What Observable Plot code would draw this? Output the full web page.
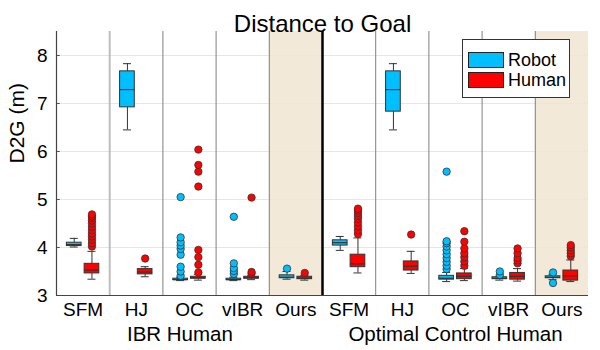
<!DOCTYPE html>
<html>
<head>
<meta charset="utf-8">
<script src="https://cdn.jsdelivr.net/npm/d3@7"></script>
<script src="https://cdn.jsdelivr.net/npm/@observablehq/plot@0.6"></script>
<style>
  body { margin: 0; background: #fff; }
  #wrap { position: relative; width: 600px; height: 350px; font-family: "Liberation Sans", Arial, sans-serif; }
  #legend { position: absolute; left: 462px; top: 39px; width: 108px; height: 59px; box-sizing: border-box;
            border: 1px solid #333; background: #fff; }
  .sw { position: absolute; left: 5px; width: 36px; height: 16px; box-sizing: border-box; border: 1px solid #222; }
  .lt { position: absolute; left: 45px; font-size: 18px; line-height: 18px; color: #000; }
</style>
</head>
<body>
<div id="wrap"></div>
<script>
// ---- labels / categories ----
const title = "Distance to Goal";
const yLabel = "D2G (m)";
const groups = ["IBR Human", "Optimal Control Human"];
const methods = ["SFM", "HJ", "OC", "vIBR", "Ours"];
const seriesNames = ["Robot", "Human"];
const seriesColors = ["#00bfff", "#ff0000"];
const highlightMethod = "Ours";
const yDomain = [3, 8.5];
const yTicks = [3, 4, 5, 6, 7, 8];

// ---- IBR Human : Robot ----
const ibrRobotLo  = [4.01, 6.45, 3.31, 3.31, 3.34];
const ibrRobotQ1  = [4.03, 6.92, 3.32, 3.32, 3.36];
const ibrRobotMed = [4.06, 7.29, 3.33, 3.33, 3.38];
const ibrRobotQ3  = [4.10, 7.67, 3.35, 3.35, 3.42];
const ibrRobotHi  = [4.19, 7.83, 3.38, 3.38, 3.50];
const ibrRobotOut = [[], [], [3.41, 3.50, 3.60, 3.85, 3.97, 4.04, 4.11, 4.21, 5.05], [3.45, 3.51, 3.57, 3.67, 4.64], [3.56]];

// ---- IBR Human : Human ----
const ibrHumanLo  = [3.34, 3.39, 3.32, 3.33, 3.32];
const ibrHumanQ1  = [3.46, 3.44, 3.35, 3.35, 3.34];
const ibrHumanMed = [3.53, 3.49, 3.37, 3.37, 3.36];
const ibrHumanQ3  = [3.66, 3.55, 3.39, 3.39, 3.39];
const ibrHumanHi  = [3.92, 3.60, 3.44, 3.42, 3.42];
const ibrHumanOut = [[4.02, 4.09, 4.16, 4.23, 4.29, 4.36, 4.43, 4.50, 4.56, 4.61, 4.65, 4.69], [3.77], [3.48, 3.64, 3.80, 3.95, 5.27, 5.58, 5.72, 6.04], [3.46, 3.49, 5.04], [3.47]];

// ---- Optimal Control Human : Robot ----
const ocRobotLo  = [3.94, 6.45, 3.29, 3.32, 3.33];
const ocRobotQ1  = [4.04, 6.83, 3.33, 3.34, 3.36];
const ocRobotMed = [4.10, 7.29, 3.36, 3.36, 3.38];
const ocRobotQ3  = [4.15, 7.67, 3.41, 3.38, 3.40];
const ocRobotHi  = [4.23, 7.83, 3.48, 3.40, 3.44];
const ocRobotOut = [[], [], [3.55, 3.62, 3.70, 3.78, 3.86, 3.94, 4.02, 4.09, 4.13, 5.58], [3.43, 3.50], [3.26, 3.48]];

// ---- Optimal Control Human : Human ----
const ocHumanLo  = [3.47, 3.46, 3.31, 3.30, 3.29];
const ocHumanQ1  = [3.59, 3.52, 3.34, 3.33, 3.31];
const ocHumanMed = [3.66, 3.61, 3.40, 3.40, 3.41];
const ocHumanQ3  = [3.85, 3.71, 3.46, 3.47, 3.52];
const ocHumanHi  = [4.20, 3.92, 3.56, 3.56, 3.74];
const ocHumanOut = [[4.28, 4.36, 4.44, 4.52, 4.60, 4.66, 4.72, 4.77, 4.81], [4.27], [3.62, 3.71, 3.80, 3.88, 3.98, 4.12, 4.34], [3.67, 3.73, 3.78, 3.88, 3.98], [3.82, 3.88, 3.94, 4.00, 4.05]];

// ---- style constants ----
const seriesOffset = [1 / 3, 2 / 3];   // position of each series inside a column
const boxHalf = 0.138;                 // half box width (column units)
const capHalf = 0.075;                 // half whisker-cap width
const tickLen = 0.07;
const groupLabelNudge = [-0.18, 0];    // small horizontal nudge of the group captions
const beige = "#f2e9d8";
const ink = "#333";

// ---- build tables ----
const stats = [
  [[ibrRobotLo, ibrRobotQ1, ibrRobotMed, ibrRobotQ3, ibrRobotHi, ibrRobotOut],
   [ibrHumanLo, ibrHumanQ1, ibrHumanMed, ibrHumanQ3, ibrHumanHi, ibrHumanOut]],
  [[ocRobotLo, ocRobotQ1, ocRobotMed, ocRobotQ3, ocRobotHi, ocRobotOut],
   [ocHumanLo, ocHumanQ1, ocHumanMed, ocHumanQ3, ocHumanHi, ocHumanOut]]
];
const boxes = [];
const outliers = [];
groups.forEach((g, gi) => {
  methods.forEach((m, mi) => {
    const col = gi * methods.length + mi;
    seriesNames.forEach((s, si) => {
      const [lo, q1, med, q3, hi, out] = stats[gi][si];
      const xc = col + seriesOffset[si];
      boxes.push({group: g, method: m, series: s, xc, lo: lo[mi], q1: q1[mi], med: med[mi], q3: q3[mi], hi: hi[mi]});
      out[mi].forEach(v => outliers.push({group: g, method: m, series: s, xc, v}));
    });
  });
});
const nCols = groups.length * methods.length;
const xDomain = [0, nCols];
const colCenters = d3.range(nCols).map(i => i + 0.5);
const highlightCols = d3.range(nCols).filter(i => methods[i % methods.length] === highlightMethod);
const groupSplits = d3.range(1, groups.length).map(i => i * methods.length);
const sepCols = d3.range(1, nCols).filter(i => !groupSplits.includes(i));
const colorOf = s => seriesColors[seriesNames.indexOf(s)];

const font = "'Liberation Sans', Arial, Helvetica, sans-serif";

const chart = Plot.plot({
  width: 600,
  height: 350,
  marginLeft: 56,
  marginRight: 12,
  marginTop: 31,
  marginBottom: 55,
  style: {fontFamily: font, fontSize: "19px", color: "#000", background: "#fff"},
  x: {domain: xDomain, ticks: colCenters, tickFormat: d => methods[Math.floor(d) % methods.length],
      tickSize: 0, tickPadding: 7, label: null},
  y: {domain: yDomain, ticks: yTicks, tickFormat: d => String(d), tickSize: 0, tickPadding: 9, label: null},
  marks: [
    Plot.rect(highlightCols, {x1: d => d, x2: d => d + 1, y1: yDomain[0], y2: yDomain[1], fill: beige}),
    Plot.ruleY(yTicks.slice(1), {stroke: "#e6e6e6", strokeWidth: 1}),
    Plot.ruleY(yTicks.slice(1), {x1: xDomain[0], x2: xDomain[0] + tickLen, stroke: "#555"}),
    Plot.ruleX(sepCols, {stroke: d => d === 1 ? "#bdbdbd" : "#808080", strokeWidth: d => d === 1 ? 2 : 1}),
    Plot.ruleX(groupSplits, {stroke: "#000", strokeWidth: 2.5}),
    // whiskers
    Plot.ruleX(boxes, {x: "xc", y1: "lo", y2: "q1", stroke: ink}),
    Plot.ruleX(boxes, {x: "xc", y1: "q3", y2: "hi", stroke: ink}),
    Plot.ruleY(boxes, {x1: d => d.xc - capHalf, x2: d => d.xc + capHalf, y: "lo", stroke: ink}),
    Plot.ruleY(boxes, {x1: d => d.xc - capHalf, x2: d => d.xc + capHalf, y: "hi", stroke: ink}),
    // boxes
    Plot.rect(boxes, {x1: d => d.xc - boxHalf, x2: d => d.xc + boxHalf, y1: "q1", y2: "q3",
                      fill: d => colorOf(d.series), stroke: ink, strokeWidth: 1}),
    Plot.ruleY(boxes, {x1: d => d.xc - boxHalf, x2: d => d.xc + boxHalf, y: "med", stroke: ink, strokeWidth: 1.2}),
    // outliers
    Plot.dot(outliers, {x: "xc", y: "v", r: 3.7, fill: d => colorOf(d.series), stroke: ink, strokeWidth: 0.8}),
    // axis lines
    Plot.ruleX([xDomain[0]], {stroke: "#444", strokeWidth: 1.2}),
    Plot.ruleY([yDomain[0]], {stroke: "#444", strokeWidth: 1.2}),
    // group labels
    Plot.text(groups, {x: (d, i) => i * methods.length + methods.length / 2 + groupLabelNudge[i],
                       frameAnchor: "bottom", lineAnchor: "bottom", dy: 45, fontSize: 20.5, fill: "#000"}),
    // title
    Plot.text([title], {frameAnchor: "top", dy: -17, fontSize: 24, fill: "#000"}),
    // y label
    Plot.text([yLabel], {frameAnchor: "left", rotate: -90, dx: -39, fontSize: 21, fill: "#000"})
  ]
});

const wrap = document.getElementById("wrap");
wrap.appendChild(chart);
const legend = document.createElement("div");
legend.id = "legend";
seriesNames.forEach((s, i) => {
  const sw = document.createElement("div");
  sw.className = "sw";
  sw.style.top = (12 + i * 20) + "px";
  sw.style.background = seriesColors[i];
  const lt = document.createElement("div");
  lt.className = "lt";
  lt.style.top = (11 + i * 20) + "px";
  lt.textContent = s;
  legend.appendChild(sw);
  legend.appendChild(lt);
});
wrap.appendChild(legend);
</script>
</body>
</html>
